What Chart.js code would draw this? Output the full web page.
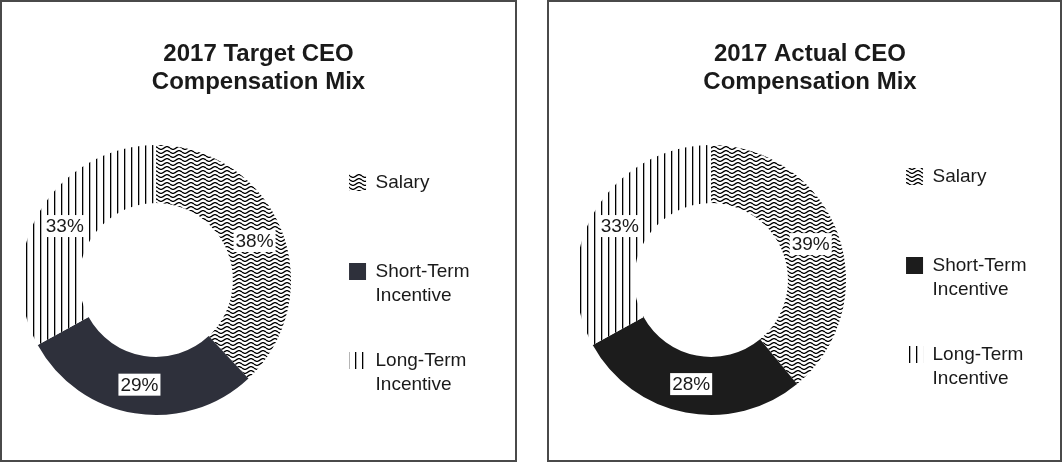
<!DOCTYPE html>
<html>
<head>
<meta charset="utf-8">
<script src="https://cdn.jsdelivr.net/npm/chart.js@4.4.0/dist/chart.umd.min.js"></script>
<style>
  html, body { margin: 0; padding: 0; background: #fff; }
  .panel { position: absolute; top: 0; height: 462px; box-sizing: border-box; border: 2px solid #4a4a4a; }
  #p1 { left: 0; width: 517px; }
  #p2 { left: 547px; width: 515px; }
  .panel canvas { display: block; }
</style>
</head>
<body>
<div class="panel" id="p1"><canvas id="c1" width="513" height="458"></canvas></div>
<div class="panel" id="p2"><canvas id="c2" width="511" height="458"></canvas></div>
<script>
const categories = ['Salary', 'Short-Term Incentive', 'Long-Term Incentive'];
const targetMix = [38, 29, 33];
const actualMix = [39, 28, 33];
const targetTitle = ['2017 Target CEO', 'Compensation Mix'];
const actualTitle = ['2017 Actual CEO', 'Compensation Mix'];

const FONT = '"Liberation Sans", Arial, Helvetica, sans-serif';

// wavy lines for salary
function wavePattern() {
  const c = document.createElement('canvas');
  c.width = 12; c.height = 4;
  const g = c.getContext('2d');
  g.fillStyle = '#fff';
  g.fillRect(0, 0, 12, 4);
  g.strokeStyle = '#000';
  g.lineWidth = 1.4;
  for (let off = -4; off <= 4; off += 4) {
    g.beginPath();
    for (let x = 0; x <= 12; x += 0.5) {
      const y = 2 + off + 1.4 * Math.sin(x / 12 * Math.PI * 2);
      if (x === 0) g.moveTo(x, y); else g.lineTo(x, y);
    }
    g.stroke();
  }
  return g.createPattern(c, 'repeat');
}

// vertical hatching for long-term
function stripePattern() {
  const c = document.createElement('canvas');
  c.width = 7; c.height = 4;
  const g = c.getContext('2d');
  g.fillStyle = '#fff';
  g.fillRect(0, 0, 7, 4);
  g.fillStyle = '#000';
  g.fillRect(3, 0, 1.3, 4);
  return g.createPattern(c, 'repeat');
}

const pctLabels = {
  id: 'pctLabels',
  afterDatasetsDraw(chart) {
    const ctx = chart.ctx;
    const meta = chart.getDatasetMeta(0);
    const vals = chart.data.datasets[0].data;
    ctx.save();
    ctx.font = '19px ' + FONT;
    ctx.textAlign = 'center';
    ctx.textBaseline = 'middle';
    meta.data.forEach((arc, i) => {
      const p = arc.tooltipPosition();
      const txt = vals[i] + '%';
      const w = ctx.measureText(txt).width;
      ctx.fillStyle = '#fff';
      ctx.fillRect(p.x - w / 2 - 2, p.y - 11, w + 4, 22);
      ctx.fillStyle = '#1a1a1a';
      ctx.fillText(txt, p.x, p.y + 1);
    });
    ctx.restore();
  }
};

// keep the title centred on the whole panel, not the padded area
const titleSpan = {
  id: 'titleSpan',
  afterLayout(chart, args, opts) {
    const t = chart.titleBlock;
    if (!t) return;
    t.left = opts.dx;
    t.right = chart.width + opts.dx;
  }
};

function makeChart(id, values, title, stCol, pad, titleDx, legendShift) {
  return new Chart(document.getElementById(id), {
    type: 'doughnut',
    data: {
      labels: categories,
      datasets: [{
        data: values,
        backgroundColor: [wavePattern(), stCol, stripePattern()],
        borderWidth: 0
      }]
    },
    options: {
      responsive: false,
      animation: false,
      radius: 135,
      cutout: '57%',
      layout: { padding: pad },
      plugins: {
        tooltip: { enabled: false },
        titleSpan: { dx: titleDx },
        title: {
          display: true,
          text: title,
          color: '#1a1a1a',
          font: { family: FONT, size: 24, weight: 'bold', lineHeight: 1.2 },
          padding: { top: 37.6, bottom: 5 }
        },
        legend: {
          position: 'right',
          fullSize: false,
          title: { display: legendShift > 0, text: '', padding: 0, font: { size: legendShift * 2 || 1, lineHeight: 1 } },
          labels: {
            boxWidth: 17,
            boxHeight: 17,
            padding: 41,
            color: '#1a1a1a',
            font: { family: FONT, size: 19, lineHeight: 1.263 },
            generateLabels(chart) {
              const items = Chart.overrides.doughnut.plugins.legend.labels.generateLabels(chart);
              items.forEach(it => {
                const lines = String(it.text).split(' ');
                while (lines.length < 2) lines.push('');
                it.text = lines;
                it.lineWidth = 0;
              });
              return items;
            }
          }
        }
      }
    },
    plugins: [pctLabels, titleSpan]
  });
}

makeChart('c1', targetMix, targetTitle, '#2e303b', { left: 2, right: 35.5, top: 0, bottom: 2.2 }, 0, 6);
makeChart('c2', actualMix, actualTitle, '#1c1c1c', { left: 8, right: 23.5, top: 0, bottom: 2.2 }, 5.5, 0);
</script>
</body>
</html>
